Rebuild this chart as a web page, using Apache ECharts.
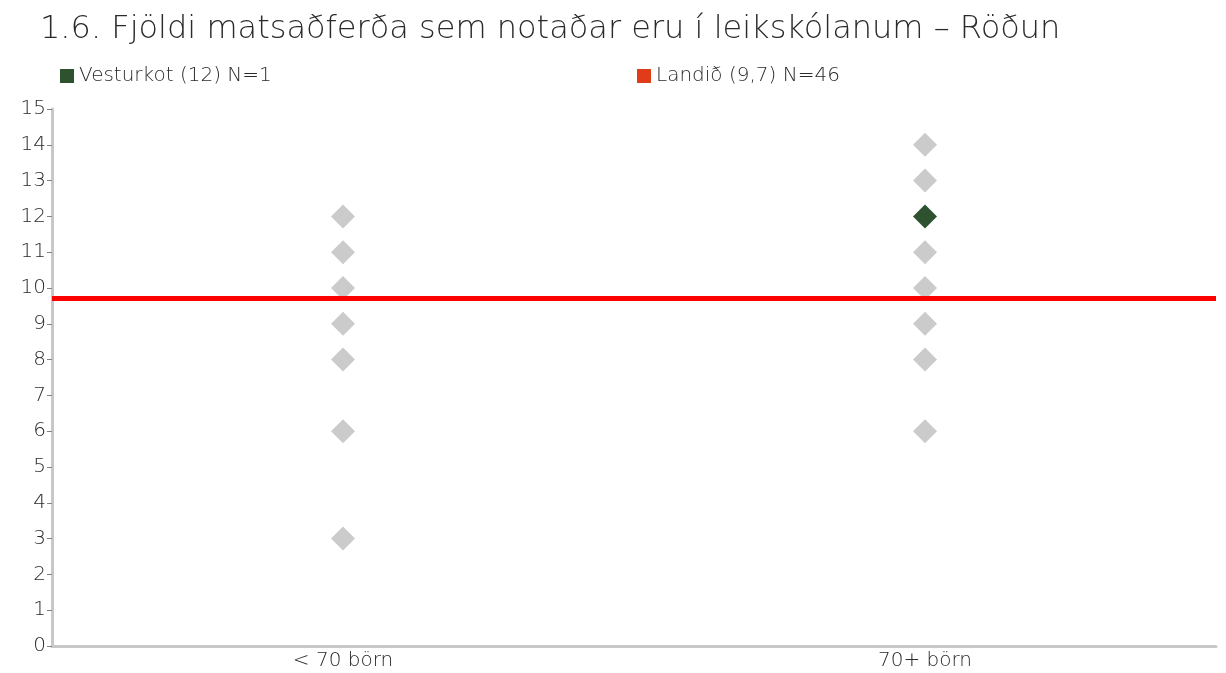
<!DOCTYPE html>
<html>
<head>
<meta charset="utf-8">
<script src="https://cdn.jsdelivr.net/npm/echarts@6/dist/echarts.min.js"></script>
<style>
  html, body { margin: 0; padding: 0; background: #fff; }
  #main { width: 1226px; height: 673px; }
</style>
</head>
<body>
<div id="main"></div>
<script>
// flokkar á x-ás
var categories = ['< 70 börn', '70+ börn']
// aðrir leikskólar (gráir tíglar)
var othersSmall = [12, 11, 10, 9, 8, 6, 3]
var othersLarge = [14, 13, 11, 10, 9, 8, 6]
// Vesturkot
var schoolName = 'Vesturkot (12) N=1'
var schoolCategory = '70+ börn'
var schoolValue = [12]
// landsmeðaltal
var nationalName = 'Landið (9,7) N=46'
var nationalValue = 9.7

var grayPoints = []
othersSmall.forEach(function (v) { grayPoints.push([categories[0], v]) })
othersLarge.forEach(function (v) { grayPoints.push([categories[1], v]) })

var chart = echarts.init(document.getElementById('main'))
var font = '"DejaVu Sans", sans-serif'

chart.setOption({
  textStyle: { fontFamily: font },
  title: {
    text: '1.6. Fjöldi matsaðferða sem notaðar eru í leikskólanum – Röðun',
    left: 35,
    top: 9,
    textStyle: { fontSize: 32, fontWeight: 200, color: '#2a2a2a', fontFamily: font }
  },
  legend: [
    {
      data: [{ name: schoolName, icon: 'rect', itemStyle: { color: '#2e5230' } }],
      left: 55, top: 61, itemWidth: 14, itemHeight: 14, itemGap: 7,
      textStyle: { fontSize: 20, fontWeight: 200, color: '#2a2a2a' }
    },
    {
      data: [{ name: nationalName, icon: 'rect', itemStyle: { color: '#e03c1a' } }],
      left: 632, top: 61, itemWidth: 14, itemHeight: 14, itemGap: 7,
      textStyle: { fontSize: 20, fontWeight: 200, color: '#2a2a2a' }
    }
  ],
  grid: { left: 52, right: 10, top: 109, bottom: 27, containLabel: false },
  xAxis: {
    type: 'category',
    data: categories,
    boundaryGap: true,
    axisLine: { lineStyle: { color: '#c8c8c8', width: 3 } },
    axisTick: { show: false },
    axisLabel: { fontSize: 20, fontWeight: 200, color: '#2a2a2a', margin: 5 },
    splitLine: { show: false }
  },
  yAxis: {
    type: 'value',
    min: 0,
    max: 15,
    interval: 1,
    axisLine: { show: true, lineStyle: { color: '#c8c8c8', width: 3 } },
    axisTick: { show: true, length: 5, lineStyle: { color: '#808080' } },
    axisLabel: { fontSize: 20, fontWeight: 200, color: '#2a2a2a', margin: 6 },
    splitLine: { show: false }
  },
  series: [
    {
      name: 'Aðrir',
      type: 'scatter',
      symbol: 'diamond',
      symbolSize: 24,
      itemStyle: { color: '#cbcbcb', opacity: 1 },
      data: grayPoints,
      z: 2
    },
    {
      name: schoolName,
      type: 'scatter',
      symbol: 'diamond',
      symbolSize: 24,
      itemStyle: { color: '#2e5230', opacity: 1 },
      data: schoolValue.map(function (v) { return [schoolCategory, v] }),
      z: 4
    },
    {
      name: nationalName,
      type: 'line',
      data: [],
      itemStyle: { color: '#e03c1a' },
      markLine: {
        silent: true,
        symbol: 'none',
        label: { show: false },
        lineStyle: { color: '#ff0000', width: 5, type: 'solid' },
        data: [{ yAxis: nationalValue }]
      },
      z: 3
    }
  ]
})
</script>
</body>
</html>
